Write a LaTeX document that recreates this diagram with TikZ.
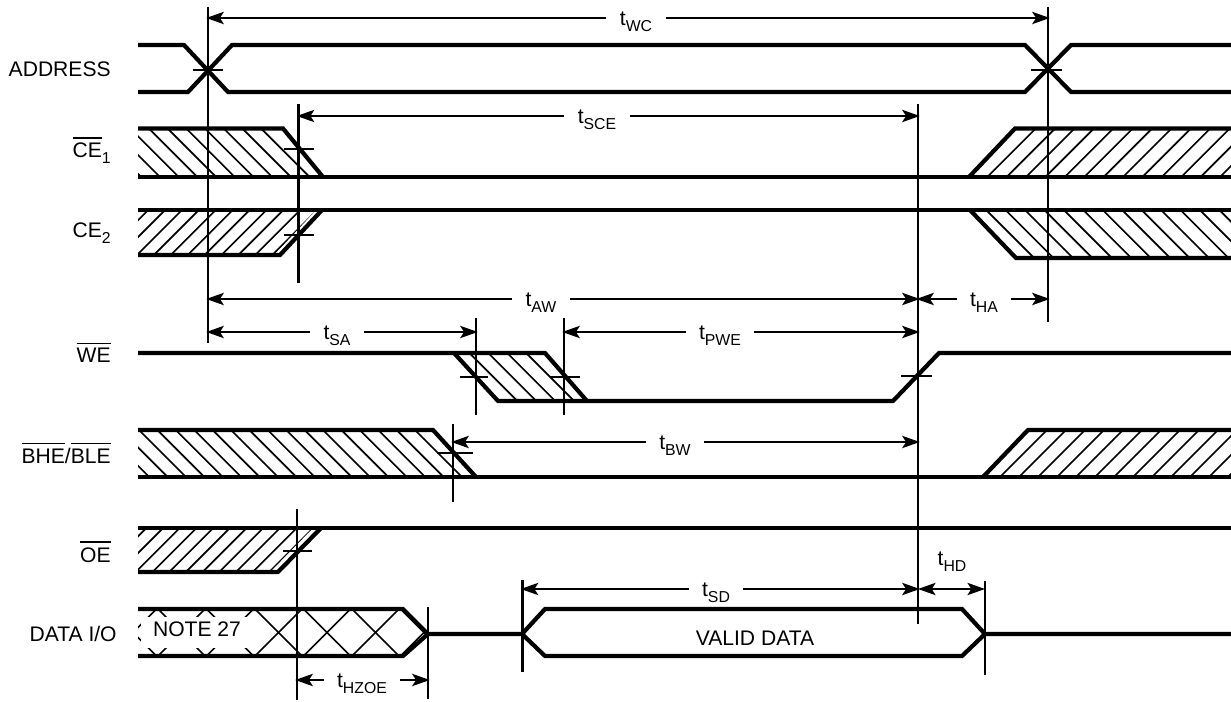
\documentclass[tikz,border=0pt]{standalone}
\usepackage{fontspec}
\setmainfont{Liberation Sans}
\usetikzlibrary{arrows.meta}

\newcommand{\tsub}[1]{t\raisebox{-3pt}{\fontsize{9}{10}\selectfont #1}}
\newcommand{\sigsub}[2]{#1\raisebox{-3pt}{\fontsize{9}{10}\selectfont #2}}
\newcommand{\barsig}[1]{\leavevmode\vbox{\hrule height 0.7pt \kern 2.6pt \hbox{#1}}}
\newcommand{\hatchback}[3]{%
  \begin{scope}
    \clip #1;
    \foreach \k in {0,...,120} {\draw [hatchline] ({#2+#3*(\k-50)},0) -- ++(700,700);}
  \end{scope}}
\newcommand{\hatchfwd}[3]{%
  \begin{scope}
    \clip #1;
    \foreach \k in {0,...,120} {\draw [hatchline] ({#2+#3*\k},0) -- ++(-700,700);}
  \end{scope}}

\tikzset{
  sigline/.style={line width=2.4pt},
  vline/.style={line width=1.3pt},
  tickline/.style={line width=1.1pt},
  hatchline/.style={line width=0.95pt},
  dimline/.style={line width=1pt,shorten >=-1pt,-{Stealth[length=10pt,width=7pt,inset=2.2pt]}},
  twoway/.style={line width=1pt,{Stealth[length=10pt,width=7pt,inset=2.2pt]}-{Stealth[length=10pt,width=7pt,inset=2.2pt]}},
  siglabel/.style={anchor=base east,inner sep=0pt,font=\fontsize{12}{14}\selectfont},
  timelabel/.style={inner xsep=7.5pt,inner ysep=0pt,text height=9pt,text depth=0pt,font=\fontsize{12}{14}\selectfont},
}

\begin{document}
\begin{tikzpicture}[x=0.02cm,y=-0.02cm]
\useasboundingbox (0,0) rectangle (1231,702);

% Hatching of the signals
\hatchback{(138,128) -- (278,128) -- (322,177) -- (138,177) -- cycle}{1.7}{18.7}
\hatchfwd{(969,177) -- (1015,128) -- (1231,128) -- (1231,177) -- cycle}{0.2}{19.4}
\hatchfwd{(138,210) -- (316,210) -- (274,255) -- (138,255) -- cycle}{3.3}{16.9}
\hatchback{(970,210) -- (1016,258) -- (1231,258) -- (1231,210) -- cycle}{17.9}{19.44}
\hatchback{(454,353) -- (545,353) -- (587,401) -- (498,401) -- cycle}{3}{18.9}
\hatchback{(138,430) -- (433,430) -- (476,477) -- (138,477) -- cycle}{3.4}{18.4}
\hatchfwd{(983,477) -- (1028,430) -- (1231,430) -- (1231,477) -- cycle}{14}{19}
\hatchfwd{(138,528) -- (313,528) -- (270,572) -- (138,572) -- cycle}{6.4}{16.7}

% Crossed part of DATA I/O
\begin{scope}
  \clip (138,609) -- (403,609) -- (428,633) -- (403,656) -- (138,656) -- cycle;
  \foreach \k in {0,...,6} {
    \draw [hatchline] ({109.5+48.5*\k},609) -- ++(47,47);
    \draw [hatchline] ({156.5+48.5*\k},609) -- ++(-47,47);
  }
\end{scope}
\fill [white] (141,617) rectangle (254,648);

% Drawing signal ADDRESS
\draw [sigline] (138,45) -- (184,45) -- (228,92) -- (1025,92) -- (1071,45) -- (1231,45);
\draw [sigline] (138,92) -- (188,92) -- (232,45) -- (1025,45) -- (1071,92) -- (1231,92);

% Drawing signal CE1
\draw [sigline] (138,128.5) -- (283,128.5) -- (323,177);
\draw [sigline] (138,177) -- (1231,177);
\draw [sigline] (969,177) -- (1015,128.5) -- (1231,128.5);

% Drawing signal CE2
\draw [sigline] (138,210) -- (1231,210);
\draw [sigline] (138,255) -- (280,255) -- (322,210);
\draw [sigline] (970,210) -- (1016,258) -- (1231,258);

% Drawing signal WE
\draw [sigline] (138,353) -- (545,353) -- (587,401);
\draw [sigline] (454,353) -- (498,401) -- (893,401) -- (939,353) -- (1231,353);

% Drawing signal BHE/BLE
\draw [sigline] (138,430) -- (433,430) -- (476,477);
\draw [sigline] (138,477) -- (476,477);
\draw [sigline] (476,477) -- (1231,477);
\draw [sigline] (983,477) -- (1028,430) -- (1231,430);

% Drawing signal OE
\draw [sigline] (138,528) -- (1231,528);
\draw [sigline] (138,572) -- (278,572) -- (321,528);

% Drawing signal DATA I/O
\draw [sigline] (138,609) -- (403,609) -- (428,634) -- (522,634);
\draw [sigline] (138,656) -- (403,656) -- (428,634);
\draw [sigline] (522,634) -- (545,609) -- (962,609) -- (985,634) -- (1231,634);
\draw [sigline] (522,634) -- (545,656) -- (962,656) -- (985,634);

% Drawing vertical lines
\draw [vline] (208,7) -- (208,343);
\draw [vline] (298.5,104) -- (298.5,283);
\draw [vline] (1048,7) -- (1048,322);
\draw [vline] (918,104) -- (918,624);
\draw [vline] (476,318) -- (476,415);
\draw [vline] (564,318) -- (564,415);
\draw [vline] (453,424) -- (453,502);
\draw [vline] (297,509) -- (297,700);
\draw [vline] (428,607) -- (428,699);
\draw [vline] (522.5,580) -- (522.5,672);
\draw [vline] (985,581) -- (985,675);

% Drawing ticks
\draw [tickline] (193,70) -- (223,70);
\draw [tickline] (1031,70) -- (1062,70);
\draw [tickline] (284,149) -- (314,149);
\draw [tickline] (284,235) -- (314,235);
\draw [tickline] (460,377) -- (488,377);
\draw [tickline] (550,377) -- (580,377);
\draw [tickline] (901,376) -- (932,376);
\draw [tickline] (437,453) -- (473,453);
\draw [tickline] (283,551) -- (312,551);

% Marking signal names
\node [siglabel] (lbladdress) at (111,77) {ADDRESS};
\node [siglabel] (lblceone) at (111,158) {\barsig{CE}\sigsub{}{1}};
\node [siglabel] (lblcetwo) at (111,238) {\sigsub{CE}{2}};
\node [siglabel] (lblwe) at (111,363) {\barsig{WE}};
\node [siglabel] (lblbhe) at (111,463) {\barsig{BHE}/\barsig{BLE}};
\node [siglabel] (lbloe) at (111,562) {\barsig{OE}};
\node [siglabel] (lbldata) at (117,641) {DATA I/O};
\node [siglabel,anchor=base] (lblnote) at (197,636) {NOTE 27};
\node [siglabel,anchor=base] (lblvalid) at (755,645) {VALID DATA};

% Drawing time tWC
\node [timelabel] (tWC) at (636,18) {\tsub{WC}};
\coordinate (WCa) at (208,18);
\coordinate (WCb) at (1048,18);
\draw [dimline] (tWC) -- (WCa);
\draw [dimline] (tWC) -- (WCb);

% Drawing time tSCE
\node [timelabel] (tSCE) at (597,116) {\tsub{SCE}};
\coordinate (SCEa) at (298.5,116);
\coordinate (SCEb) at (918,116);
\draw [dimline] (tSCE) -- (SCEa);
\draw [dimline] (tSCE) -- (SCEb);

% Drawing time tAW
\node [timelabel] (tAW) at (541,299) {\tsub{AW}};
\coordinate (AWa) at (208,299);
\coordinate (AWb) at (918,299);
\draw [dimline] (tAW) -- (AWa);
\draw [dimline] (tAW) -- (AWb);

% Drawing time tHA
\node [timelabel] (tHA) at (984,299) {\tsub{HA}};
\coordinate (HAa) at (918,299);
\coordinate (HAb) at (1048,299);
\draw [dimline] (tHA) -- (HAa);
\draw [dimline] (tHA) -- (HAb);

% Drawing time tSA
\node [timelabel] (tSA) at (337,332) {\tsub{SA}};
\coordinate (SAa) at (208,332);
\coordinate (SAb) at (476,332);
\draw [dimline] (tSA) -- (SAa);
\draw [dimline] (tSA) -- (SAb);

% Drawing time tPWE
\node [timelabel] (tPWE) at (720,332) {\tsub{PWE}};
\coordinate (PWEa) at (564,332);
\coordinate (PWEb) at (918,332);
\draw [dimline] (tPWE) -- (PWEa);
\draw [dimline] (tPWE) -- (PWEb);

% Drawing time tBW
\node [timelabel] (tBW) at (675,442) {\tsub{BW}};
\coordinate (BWa) at (453,442);
\coordinate (BWb) at (918,442);
\draw [dimline] (tBW) -- (BWa);
\draw [dimline] (tBW) -- (BWb);

% Drawing time tSD
\node [timelabel] (tSD) at (716,589) {\tsub{SD}};
\coordinate (SDa) at (522.5,589);
\coordinate (SDb) at (918,589);
\draw [dimline] (tSD) -- (SDa);
\draw [dimline] (tSD) -- (SDb);

% Drawing time tHD
\node [timelabel] (tHD) at (952,558) {\tsub{HD}};
\coordinate (HDa) at (918,589);
\coordinate (HDb) at (985,589);
\draw [twoway] (HDa) -- (HDb);

% Drawing time tHZOE
\node [timelabel] (tHZOE) at (362,680) {\tsub{HZOE}};
\coordinate (HZOEa) at (297,680);
\coordinate (HZOEb) at (428,680);
\draw [dimline] (tHZOE) -- (HZOEa);
\draw [dimline] (tHZOE) -- (HZOEb);
\end{tikzpicture}
\end{document}
